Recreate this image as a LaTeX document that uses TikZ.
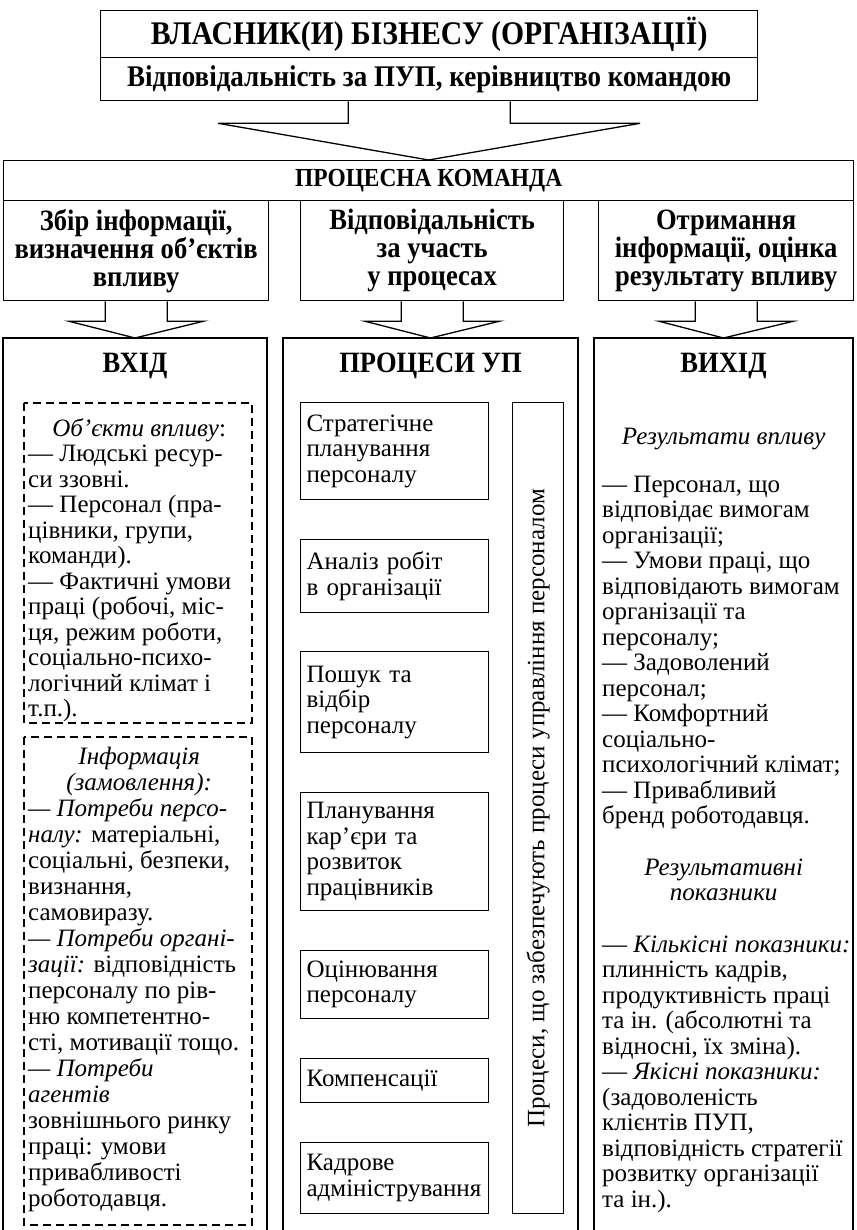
\documentclass[tikz,border=0pt]{standalone}
\usepackage{fontspec}
\setmainfont{Liberation Serif}
\newfontfamily\hfont[FakeStretch=0.9]{Liberation Serif}
\usetikzlibrary{calc}
\newcommand{\ctrline}[2]{\makebox[#1][c]{#2}}
\begin{document}
\begin{tikzpicture}[x=1pt,y=-1pt,
  frame/.style={draw, line width=1.3pt, line join=miter},
  hd/.style={font=\hfont\bfseries\fontsize{29.5}{28}\selectfont, align=center},
  body/.style={font=\fontsize{25}{25.5}\selectfont},
  hbox/.style={frame, hd, anchor=north west, inner sep=0pt},
  pbox/.style={draw, line width=1.2pt, anchor=north west, minimum width=188pt, text width=176pt, inner xsep=6pt, inner ysep=0pt, align=left, body},
  dbox/.style={draw, line width=1.2pt, dash pattern=on 8pt off 5pt},
  txt/.style={body, anchor=north west, inner sep=0pt, align=left}
]
\useasboundingbox (0,0) rectangle (856,1230);
\fill[white] (0,0) rectangle (856,1230);

% top boxes
\node[hbox, minimum width=657pt, minimum height=47pt, font=\hfont\bfseries\fontsize{33}{33}\selectfont] (own) at (100,10) {ВЛАСНИК(И) БІЗНЕСУ (ОРГАНІЗАЦІЇ)};
\node[hbox, minimum width=657pt, minimum height=43pt, font=\hfont\bfseries\fontsize{30}{30}\selectfont] (resp) at (100,57) {Відповідальність за ПУП, керівництво командою};

% team
\node[hbox, minimum width=850pt, minimum height=40pt, font=\hfont\bfseries\fontsize{26}{26}\selectfont] (team) at (3,160) {ПРОЦЕСНА КОМАНДА};
\node[hbox, minimum width=265pt, minimum height=100pt] (hl) at (3,200) {Збір інформації,\\визначення об’єктів\\впливу};
\node[hbox, minimum width=263pt, minimum height=100pt] (hm) at (300,200) {Відповідальність\\за участь\\у процесах};
\node[hbox, minimum width=255pt, minimum height=100pt] (hr) at (598,200) {Отримання\\інформації, оцінка\\результату впливу};

% top arrow
\draw[frame] ($(resp.south)+(-81,0)$) -- ++(0,22) -- ($(resp.south)+(-211,22)$) -- (team.north)
  -- ($(resp.south)+(211,22)$) -- ($(resp.south)+(81,22)$) -- ($(resp.south)+(81,0)$);

% columns
\coordinate (cLa) at (3,338); \coordinate (cLb) at (267,338);
\coordinate (cMa) at (283,338); \coordinate (cMb) at (578,338);
\coordinate (cRa) at (594,338); \coordinate (cRb) at (853,338);
\draw[frame] (3,1235) -- (cLa) -- (cLb) -- (267,1235);
\draw[frame] (283,1235) -- (cMa) -- (cMb) -- (578,1235);
\draw[frame] (594,1235) -- (cRa) -- (cRb) -- (853,1235);

% small arrows
\foreach \h/\a/\b in {hl/cLa/cLb, hm/cMa/cMb, hr/cRa/cRb}{
  \draw[frame] ($(\h.south)+(-31,0)$) -- ++(0,20) -- ($(\h.south)+(-67,20)$) -- ($(\a)!0.5!(\b)$)
    -- ($(\h.south)+(67,20)$) -- ($(\h.south)+(31,20)$) -- ($(\h.south)+(31,0)$);
}

% column titles
\node[hd] (tin) at ($(cLa)!0.5!(cLb)+(0,28)$) {ВХІД};
\node[hd] (tpr) at ($(cMa)!0.5!(cMb)+(0,28)$) {ПРОЦЕСИ УП};
\node[hd] (tout) at ($(cRa)!0.5!(cRb)+(0,28)$) {ВИХІД};

% left dashed boxes
\draw[dbox] (24,403) rectangle (252,723);
\draw[dbox] (24,737) rectangle (252,1225);

\node[txt] (objs) at (28,418) {\ctrline{222pt}{\textit{Об’єкти впливу}:}\\
— Людські ресур-\\
си ззовні.\\
— Персонал (пра-\\
цівники, групи,\\
команди).\\
— Фактичні умови\\
праці (робочі, міс-\\
ця, режим роботи,\\
соціально-психо-\\
логічний клімат і\\
т.п.).};

\node[txt, font=\fontsize{25}{26}\selectfont] (info) at (28,747) {\ctrline{222pt}{\textit{Інформація}}\\
\ctrline{222pt}{\textit{(замовлення):}}\\
\textit{— Потреби персо-}\\
\textit{налу:} матеріальні,\\
соціальні, безпеки,\\
визнання,\\
самовиразу.\\
\textit{— Потреби органі-}\\
\textit{зації:} відповідність\\
персоналу по рів-\\
ню компетентно-\\
сті, мотивації тощо.\\
\textit{— Потреби}\\
\textit{агентів}\\
зовнішнього ринку\\
праці: умови\\
привабливості\\
роботодавця.};

% middle boxes
\node[pbox, minimum height=97pt] (p1) at (300,402) {Стратегічне\\планування\\персоналу};
\node[pbox, minimum height=73pt] (p2) at (300,539) {Аналіз робіт\\в організації};
\node[pbox, minimum height=101pt] (p3) at (300,651) {Пошук та\\відбір\\персоналу};
\node[pbox, minimum height=118pt] (p4) at (300,792) {Планування\\кар’єри та\\розвиток\\працівників};
\node[pbox, minimum height=68pt] (p5) at (300,950) {Оцінювання\\персоналу};
\node[pbox, minimum height=44pt] (p6) at (300,1058) {Компенсації};
\node[pbox, minimum height=71pt] (p7) at (300,1142) {Кадрове\\адміністрування};
\node[draw, line width=1.2pt, anchor=north west, minimum width=51pt, minimum height=811pt, inner sep=0pt] (pv) at (512,402) {};
\node[body, rotate=90] (pvt) at (pv.center) {Процеси, що забезпечують процеси управління персоналом};

% right column text
\node[txt] (res) at (602,428) {\ctrline{243pt}{\textit{Результати впливу}}\\[22pt]
— Персонал, що\\
відповідає вимогам\\
організації;\\
— Умови праці, що\\
відповідають вимогам\\
організації та\\
персоналу;\\
— Задоволений\\
персонал;\\
— Комфортний\\
соціально-\\
психологічний клімат;\\
— Привабливий\\
бренд роботодавця.\\[26pt]
\ctrline{243pt}{\textit{Результативні}}\\
\ctrline{243pt}{\textit{показники}}\\[26pt]
— \textit{Кількісні показники:}\\
плинність кадрів,\\
продуктивність праці\\
та ін. (абсолютні та\\
відносні, їх зміна).\\
— \textit{Якісні показники:}\\
(задоволеність\\
клієнтів ПУП,\\
відповідність стратегії\\
розвитку організації\\
та ін.).};
\end{tikzpicture}
\end{document}
